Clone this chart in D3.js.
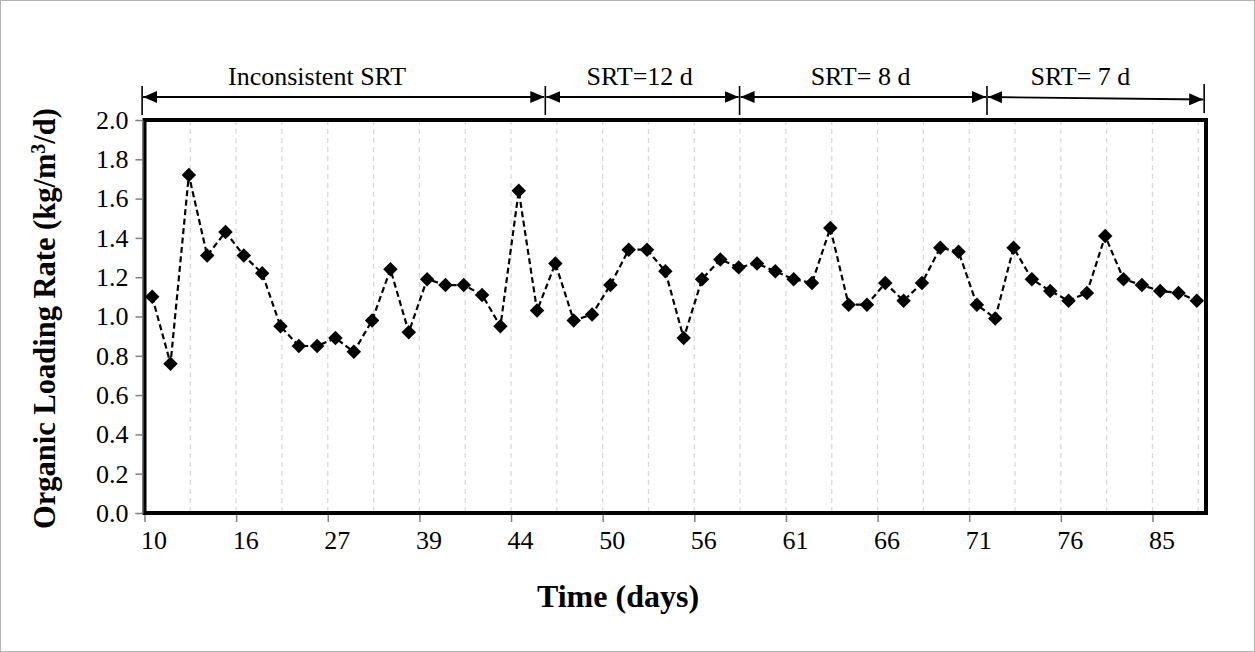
<!DOCTYPE html>
<html>
<head>
<meta charset="utf-8">
<script src="https://cdn.jsdelivr.net/npm/d3@7"></script>
<style>
  html, body { margin: 0; padding: 0; background: #fff; }
  svg { display: block; }
  text { font-family: "Liberation Serif", "Times New Roman", serif; fill: #000; }
</style>
</head>
<body>
<svg id="chart" width="1255" height="652"></svg>
<script>
// ---------------- data ----------------
const tickLabels = ["10", "16", "27", "39", "44", "50", "56", "61", "66", "71", "76", "85"];
const olr = [
  1.10, 0.76, 1.72, 1.31, 1.43, 1.31, 1.22, 0.95, 0.85, 0.85,
  0.89, 0.82, 0.98, 1.24, 0.92, 1.19, 1.16, 1.16, 1.11, 0.95,
  1.64, 1.03, 1.27, 0.98, 1.01, 1.16, 1.34, 1.34, 1.23, 0.89,
  1.19, 1.29, 1.25, 1.27, 1.23, 1.19, 1.17, 1.45, 1.06, 1.06,
  1.17, 1.08, 1.17, 1.35, 1.33, 1.06, 0.99, 1.35, 1.19, 1.13,
  1.08, 1.12, 1.41, 1.19, 1.16, 1.13, 1.12, 1.08
];
const yTicks = [0.0, 0.2, 0.4, 0.6, 0.8, 1.0, 1.2, 1.4, 1.6, 1.8, 2.0];
const phaseNames = ["Inconsistent SRT", "SRT=12 d", "SRT= 8 d", "SRT= 7 d"];
const phaseBounds = [-0.55, 21.45, 32.05, 45.55, 57.4];   // in sample-index units
const phaseLabelPos = [9.0, 26.6, 38.65, 50.65];           // in sample-index units

// ---------------- layout ----------------
const W = 1255, H = 652;
const plot = { left: 144.5, right: 1206, top: 120, bottom: 513 };
const svg = d3.select("#chart");
const serif = "'Liberation Serif', 'Times New Roman', serif";

const xStart = -0.42;                       // axis origin in index units
const x = d3.scaleLinear()
  .domain([xStart, 57.5])
  .range([plot.left, plot.right]);
const y = d3.scaleLinear()
  .domain([0, 2])
  .range([plot.bottom, plot.top]);

// outer chart border
svg.append("rect")
  .attr("x", 0.5).attr("y", 0.5)
  .attr("width", W - 1).attr("height", H - 1)
  .attr("fill", "#fff")
  .attr("stroke", "#b3b3b3").attr("stroke-width", 1);

// vertical dashed gridlines (every 2.5 samples)
const gridIdx = d3.range(1, 24).map(k => xStart + 2.5 * k);
svg.append("g").selectAll("line")
  .data(gridIdx)
  .join("line")
  .attr("x1", d => x(d)).attr("x2", d => x(d))
  .attr("y1", plot.top).attr("y2", plot.bottom)
  .attr("stroke", "#d9d9d9")
  .attr("stroke-width", 1.3)
  .attr("stroke-dasharray", "5,4");

// plot frame
svg.append("rect")
  .attr("x", plot.left).attr("y", plot.top)
  .attr("width", plot.right - plot.left)
  .attr("height", plot.bottom - plot.top)
  .attr("fill", "none")
  .attr("stroke", "#000").attr("stroke-width", 4);

// y axis
const yAxis = d3.axisLeft(y)
  .tickValues(yTicks)
  .tickFormat(d3.format(".1f"))
  .tickSize(7)
  .tickPadding(7);
const gy = svg.append("g")
  .attr("transform", `translate(${plot.left - 2},0)`)
  .call(yAxis);
gy.select(".domain").attr("stroke", "#7f7f7f").attr("stroke-width", 1);
gy.selectAll(".tick line").attr("stroke", "#7f7f7f").attr("stroke-width", 1.5);
gy.selectAll(".tick text")
  .style("font-family", serif)
  .style("font-size", "26px").attr("fill", "#000");

// x axis (labels every 5 samples)
const xTickIdx = tickLabels.map((_, k) => xStart + 5 * k);
const xAxis = d3.axisBottom(x)
  .tickValues(xTickIdx)
  .tickFormat((d, i) => tickLabels[i])
  .tickSize(7)
  .tickPadding(9);
const gx = svg.append("g")
  .attr("transform", `translate(0,${plot.bottom + 2})`)
  .call(xAxis);
gx.select(".domain").remove();
gx.selectAll(".tick line").attr("stroke", "#7f7f7f").attr("stroke-width", 1.5);
gx.selectAll(".tick text")
  .attr("dx", 9)
  .style("font-family", serif)
  .style("font-size", "26px").attr("fill", "#000");

// data line
const line = d3.line()
  .x((d, i) => x(i))
  .y(d => y(d));
svg.append("path")
  .datum(olr)
  .attr("d", line)
  .attr("fill", "none")
  .attr("stroke", "#000")
  .attr("stroke-width", 2.2)
  .attr("stroke-dasharray", "6,3.5");

// diamond markers
const diamond = d3.symbol().type(d3.symbolSquare).size(105);
svg.append("g").selectAll("path")
  .data(olr)
  .join("path")
  .attr("d", diamond)
  .attr("transform", (d, i) => `translate(${x(i)},${y(d)}) rotate(45)`)
  .attr("fill", "#000");

// phase annotations
const arrowY = 97;
const defs = svg.append("defs");
defs.append("marker")
  .attr("id", "ah")
  .attr("viewBox", "0 0 14 12")
  .attr("refX", 14).attr("refY", 6)
  .attr("markerWidth", 14).attr("markerHeight", 12)
  .attr("markerUnits", "userSpaceOnUse")
  .attr("orient", "auto-start-reverse")
  .append("path")
  .attr("d", "M0,0 L14,6 L0,12 Z")
  .attr("fill", "#000");

const ann = svg.append("g");
ann.selectAll("line.bar")
  .data(phaseBounds)
  .join("line")
  .attr("class", "bar")
  .attr("x1", d => x(d)).attr("x2", d => x(d))
  .attr("y1", (d, i) => i === phaseBounds.length - 1 ? 84 : 86)
  .attr("y2", (d, i) => i === phaseBounds.length - 1 ? 113 : 115)
  .attr("stroke", "#000").attr("stroke-width", 1.6);
const segs = phaseNames.map((n, i) => ({ name: n, a: phaseBounds[i], b: phaseBounds[i + 1], lp: phaseLabelPos[i], last: i === phaseNames.length - 1 }));
ann.selectAll("line.arr")
  .data(segs)
  .join("line")
  .attr("class", "arr")
  .attr("x1", d => x(d.a) + 1).attr("x2", d => x(d.b) - 1)
  .attr("y1", arrowY)
  .attr("y2", d => d.last ? arrowY + 2.5 : arrowY)
  .attr("stroke", "#000").attr("stroke-width", 1.8)
  .attr("marker-start", "url(#ah)")
  .attr("marker-end", "url(#ah)");
ann.selectAll("text")
  .data(segs)
  .join("text")
  .attr("x", d => x(d.lp)).attr("y", 85)
  .attr("text-anchor", "middle")
  .style("font-size", "26px")
  .text(d => d.name);

// axis titles
svg.append("text")
  .attr("x", 618).attr("y", 607)
  .attr("text-anchor", "middle")
  .style("font-size", "32px").style("font-weight", "bold")
  .text("Time (days)");

const yt = svg.append("text")
  .attr("transform", `translate(55,${(plot.top + plot.bottom) / 2 + 2}) rotate(-90)`)
  .attr("text-anchor", "middle")
  .style("font-size", "30.5px").style("font-weight", "bold");
yt.append("tspan").text("Organic Loading Rate (kg/m");
yt.append("tspan").attr("dy", -10).style("font-size", "20px").text("3");
yt.append("tspan").attr("dy", 10).text("/d)");
</script>
</body>
</html>
